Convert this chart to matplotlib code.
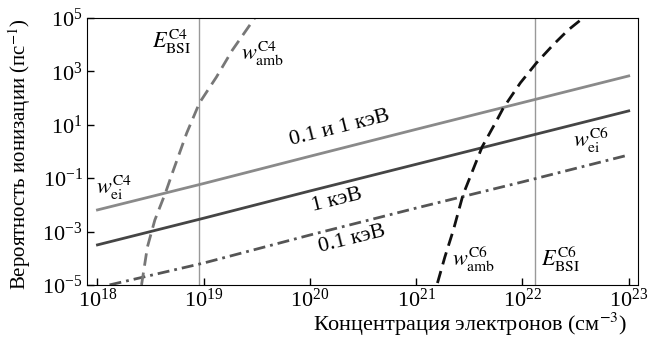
import numpy as np
import matplotlib
matplotlib.use('Agg')
import matplotlib.pyplot as plt

plt.rcParams['font.family'] = ['Liberation Serif', 'DejaVu Serif']
plt.rcParams['mathtext.fontset'] = 'stix'

# концентрация (см^-3) и вероятности (пс^-1)
n_ei = [1e18, 1e19, 1e20, 1e21, 1e22, 1e23]
w_ei_c4 = [10**-2.19, 10**-1.2, 10**-0.18, 10**0.83, 10**1.83, 10**2.83]
w_ei_c6_1kev = [10**-3.5, 10**-2.5, 10**-1.48, 10**-0.48, 10**0.52, 10**1.52]
n_ei_c6_01 = [1.3e18, 1e19, 1e20, 1e21, 1e22, 1e23]
w_ei_c6_01kev = [10**-5.0, 10**-4.18, 10**-3.13, 10**-2.12, 10**-1.14, 10**-0.13]

lg_n_amb_c4 = [18.415, 18.47, 18.54, 18.64, 18.71, 18.84, 18.96, 19.12, 19.27, 19.48]
lg_w_amb_c4 = [-5.0, -3.58, -2.57, -1.55, -0.75, 0.69, 1.82, 2.79, 3.80, 5.0]
lg_n_amb_c6 = [21.20, 21.27, 21.35, 21.44, 21.62, 21.76, 21.82, 21.98, 22.13, 22.29, 22.43, 22.57]
lg_w_amb_c6 = [-4.93, -3.95, -2.94, -1.63, 0.17, 1.18, 1.63, 2.57, 3.31, 4.0, 4.55, 5.0]

e_bsi_c4 = 9e18
e_bsi_c6 = 1.32e22

fig = plt.figure(figsize=(6.48, 3.40), dpi=100)
ax = fig.add_axes([0.134, 0.162, 0.851, 0.785])

ax.axvline(e_bsi_c4, color='#999999', lw=1.0)
ax.axvline(e_bsi_c6, color='#999999', lw=1.0)

ax.plot(n_ei, w_ei_c4, color='#8a8a8a', lw=2.0)
ax.plot(n_ei, w_ei_c6_1kev, color='#454545', lw=2.0)
ax.plot(n_ei_c6_01, w_ei_c6_01kev, color='#555555', lw=2.0, ls=(0, (4.3, 1.8, 1.0, 1.8)))
ax.plot(10**np.array(lg_n_amb_c4), 10**np.array(lg_w_amb_c4), color='#777777', lw=2.0, ls=(0, (4.5, 2.5)))
ax.plot(10**np.array(lg_n_amb_c6), 10**np.array(lg_w_amb_c6), color='#111111', lw=2.0, ls=(0, (4.5, 2.5)))

ax.set_xscale('log')
ax.set_yscale('log')
ax.set_xlim(10**17.9, 10**23.09)
ax.set_ylim(1e-5, 1e5)
ax.set_xticks([1e18, 1e19, 1e20, 1e21, 1e22, 1e23])
ax.set_yticks([1e-5, 1e-3, 1e-1, 1e1, 1e3, 1e5])
ax.minorticks_off()
ax.tick_params(direction='in', labelsize=16, length=5, width=1, pad=3)

ax.set_xlabel('Концентрация электронов (см$^{-3}$)', fontsize=16)
ax.xaxis.set_label_coords(0.695, -0.098)
ax.set_ylabel('Вероятность ионизации (пс$^{-1}$)', fontsize=15)
ax.yaxis.set_label_coords(-0.098, 0.49)

tkw = dict(fontsize=16, ha='center', va='center')
ax.text(10**18.70, 10**4.1, r'$E_{\rm BSI}^{\rm C4}$', **tkw)
ax.text(10**19.55, 10**3.65, r'$w_{\rm amb}^{\rm C4}$', **tkw)
ax.text(10**18.16, 10**-1.35, r'$w_{\rm ei}^{\rm C4}$', **tkw)
ax.text(10**20.28, 10**0.88, '0.1 и 1 кэВ', rotation=14, **tkw)
ax.text(10**20.25, 10**-1.82, '1 кэВ', rotation=14, **tkw)
ax.text(10**20.40, 10**-3.31, '0.1 кэВ', rotation=14, **tkw)
ax.text(10**22.64, 10**0.43, r'$w_{\rm ei}^{\rm C6}$', **tkw)
ax.text(10**21.54, 10**-4.06, r'$w_{\rm amb}^{\rm C6}$', **tkw)
ax.text(10**22.36, 10**-4.06, r'$E_{\rm BSI}^{\rm C6}$', **tkw)

fig.savefig('out.png', dpi=100)
